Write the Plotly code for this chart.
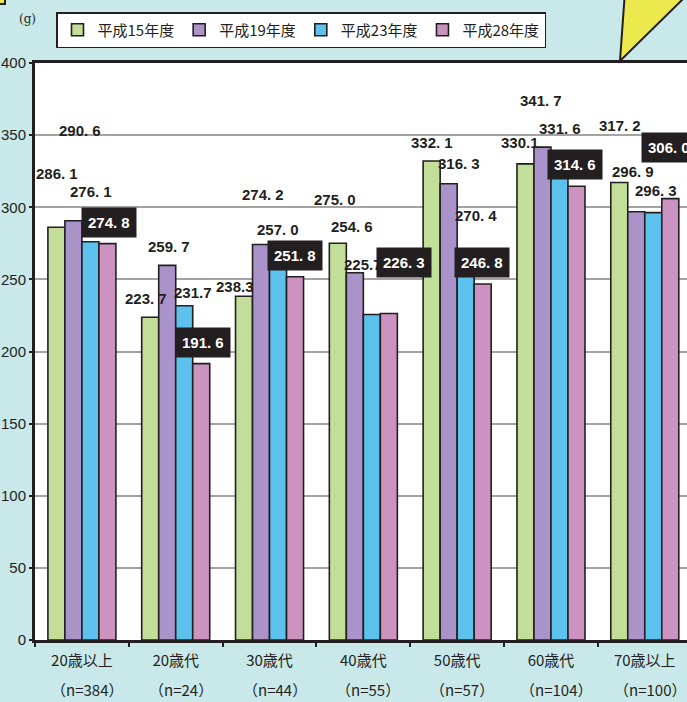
import plotly.graph_objects as go

# ---- data ----
categories = ["20歳以上", "20歳代", "30歳代", "40歳代", "50歳代", "60歳代", "70歳以上"]
sample_sizes = ["（n=384）", "（n=24）", "（n=44）", "（n=55）", "（n=57）", "（n=104）", "（n=100）"]
series_names = ["平成15年度", "平成19年度", "平成23年度", "平成28年度"]
h15 = [286.1, 223.7, 238.3, 275.0, 332.1, 330.1, 317.2]
h19 = [290.6, 259.7, 274.2, 254.6, 316.3, 341.7, 296.9]
h23 = [276.1, 231.7, 257.0, 225.7, 270.4, 331.6, 296.3]
h28 = [274.8, 191.6, 251.8, 226.3, 246.8, 314.6, 306.0]
y_ticks = [0, 50, 100, 150, 200, 250, 300, 350, 400]

# ---- styling ----
colors = ["#c2de98", "#a993c8", "#5cc1ed", "#cc93c1"]
BG = "#c9e8ea"
DARK = "#231f20"
NUM_FONT = "Liberation Sans, Arial, sans-serif"
CJK_FONT = "Noto Sans CJK JP, Noto Sans, sans-serif"

# label offsets (px) relative to group centre / bar top, per series, per group
label_dx = [
    [-25, -30, -35, -28, -25, -31, -25],
    [-2, -7, -7, -11, 2, -10, -12],
    [9, 17, 8, 0, 19, 9, 11],
    [27, 27, 25, 41, 25, 24, 24],
]
label_dy = [
    [54, 19, 10, 44, 18, 21, 57],
    [90, 19, 50, 46, 20, 47, 40],
    [50, 13, 40, 50, 34, 33, 22],
    [21, 21, 21, 51, 21, 22, 51],
]
compact = {(2, 3), (2, 1), (0, 2), (0, 5)}  # (series, group) drawn without space

series = [h15, h19, h23, h28]

fig = go.Figure()
for s, (name, vals) in enumerate(zip(series_names, series)):
    fig.add_trace(go.Bar(
        x=categories, y=vals, name=name,
        marker=dict(color=colors[s], line=dict(color=DARK, width=1.6)),
    ))

annotations = []
for s, vals in enumerate(series):
    for g, v in enumerate(vals):
        txt = f"{v:.1f}" if (s, g) in compact else f"{v:.1f}".replace(".", ". ")
        boxed = (s == 3)
        annotations.append(dict(
            x=categories[g], y=v, xref="x", yref="y",
            xshift=label_dx[s][g], yshift=label_dy[s][g],
            text=f"<b>{txt}</b>", showarrow=False,
            xanchor="center", yanchor="middle",
            font=dict(family=NUM_FONT, size=15,
                      color="white" if boxed else DARK),
            bgcolor=DARK if boxed else None,
            borderpad=6 if boxed else 0,
        ))

for g, n in enumerate(sample_sizes):
    annotations.append(dict(
        x=categories[g], y=-0.085, xref="x", yref="paper",
        xshift=5, text=n, showarrow=False,
        font=dict(family=CJK_FONT, size=15, color=DARK),
        xanchor="center", yanchor="middle",
    ))


# paper-coordinate helpers for decorations (plot area: x 35..687, y 63..640)
def px(xp):
    return (xp - 35) / 652


def py(yp):
    return (640 - yp) / 577


annotations.append(dict(
    x=px(27), y=py(19), xref="paper", yref="paper",
    text="(g)", showarrow=False, xanchor="center", yanchor="middle",
    font=dict(family="DejaVu Serif, serif", size=12, color=DARK),
))

shapes = [
    dict(type="path", xref="paper", yref="paper",
         path=f"M {px(620)} {py(61)} L {px(624.5)} {py(-2)} L {px(684)} {py(-2)} Z",
         fillcolor="#ece94e", line=dict(color=DARK, width=2), layer="above"),
    dict(type="rect", xref="paper", yref="paper",
         x0=px(-3), x1=px(5), y0=py(4), y1=py(-3),
         fillcolor="#ece94e", line=dict(color=DARK, width=2)),
]

fig.update_layout(
    width=687, height=702,
    margin=dict(l=35, r=0, t=63, b=62),
    paper_bgcolor=BG, plot_bgcolor="white",
    barmode="group", bargap=0.275, bargroupgap=0,
    showlegend=True,
    legend=dict(
        orientation="h", xref="container", yref="container",
        x=56 / 687, y=1 - 12 / 702, xanchor="left", yanchor="top",
        bgcolor="white", bordercolor=DARK, borderwidth=1.5,
        font=dict(family=CJK_FONT, size=15, color=DARK),
        itemwidth=30, tracegroupgap=0,
    ),
    annotations=annotations,
    shapes=shapes,
)

fig.update_xaxes(
    type="category", range=[-0.5, 6.45],
    tickmode="array", tickvals=categories, ticktext=categories,
    tickson="boundaries", ticks="outside", ticklen=4, tickwidth=2, tickcolor=DARK,
    ticklabelstandoff=5,
    showline=True, linewidth=3, linecolor=DARK, mirror=True,
    showgrid=False,
    tickfont=dict(family=CJK_FONT, size=15, color=DARK),
)
fig.update_yaxes(
    range=[0, 400], tickvals=y_ticks,
    showgrid=True, gridcolor="#a3a3a3", gridwidth=1.5,
    showline=True, linewidth=3, linecolor=DARK,
    ticks="outside", ticklen=3, tickwidth=2, tickcolor=DARK,
    zeroline=False,
    tickfont=dict(family=NUM_FONT, size=15, color=DARK),
)

fig.write_html(
    "out.html",
    config={"displayModeBar": False},
    post_script="document.body.style.margin='0px';document.body.style.background='" + BG + "';",
)
